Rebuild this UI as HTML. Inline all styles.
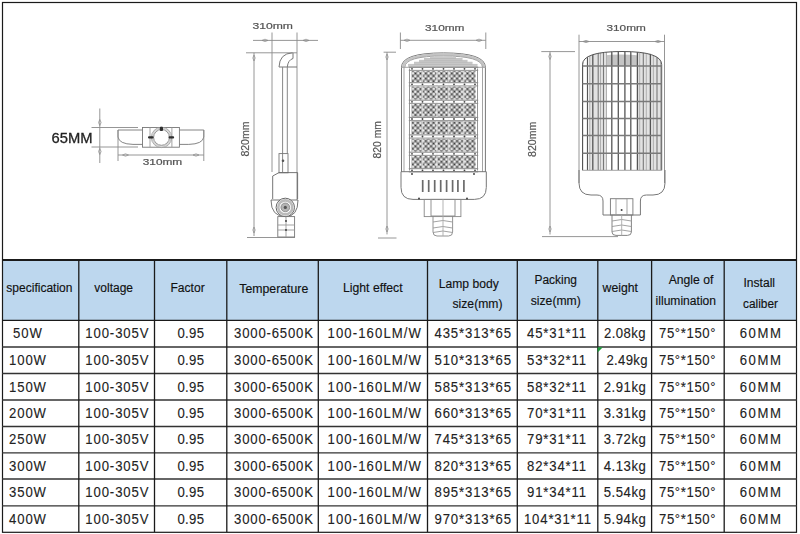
<!DOCTYPE html>
<html><head><meta charset="utf-8"><style>
html,body{margin:0;padding:0;background:#fff;width:800px;height:534px;overflow:hidden}
svg{display:block}
text{font-family:"Liberation Sans",sans-serif}
</style></head><body>
<svg width="800" height="534" viewBox="0 0 800 534">
<rect width="800" height="534" fill="#fff"/>
<filter id="soft" x="0" y="0" width="800" height="260" filterUnits="userSpaceOnUse"><feGaussianBlur stdDeviation="0.35"/></filter>
<g id="drawings" filter="url(#soft)" fill="none" stroke="#8a8a8a" stroke-width="0.9" stroke-linecap="butt">
<!-- ============ Drawing 1: top view ============ -->
<text x="51.6" y="142.6" font-size="14.8" fill="#222" stroke="#222" stroke-width="0.3" textLength="41" lengthAdjust="spacingAndGlyphs">65MM</text>
<line x1="99.8" y1="108.5" x2="99.8" y2="163"/>
<path d="M99.8 119.5 l-1.3 3 l1.3 3 l1.3 -3 z M99.8 148.5 l-1.3 3 l1.3 3 l1.3 -3 z" stroke-width="0.7"/>
<line x1="91.5" y1="127.5" x2="138" y2="127.5"/>
<line x1="91.5" y1="147" x2="138" y2="147"/>
<!-- wings -->
<path d="M118 130 H142.5 M118 130 V137 Q119 144 133 144.4 H142.5" stroke="#777"/>
<path d="M203.8 130 H179.4 M203.8 130 V137 Q202.8 144 188.8 144.4 H179.4" stroke="#777"/>
<rect x="142.5" y="127.5" width="36.9" height="19.7" stroke="#777"/>
<line x1="150" y1="127.5" x2="150" y2="147.2" stroke="#999"/>
<line x1="171.9" y1="127.5" x2="171.9" y2="147.2" stroke="#999"/>
<circle cx="161.5" cy="137.4" r="9.1" stroke="#d6d6d6" stroke-width="1.8"/>
<circle cx="161.5" cy="137.4" r="7.9" stroke="#8a8a8a" stroke-width="0.9"/>
<circle cx="161.5" cy="137.4" r="10.2" stroke="#9a9a9a" stroke-width="0.8"/>
<g fill="#2e2e2e" stroke="none">
<rect x="159.8" y="126.8" width="3.2" height="4.2" rx="1"/>
<rect x="148" y="136.2" width="5.6" height="2.4" rx="1"/>
<rect x="168.5" y="136.2" width="5.6" height="2.4" rx="1"/>
</g>
<line x1="118" y1="130" x2="118" y2="161"/>
<line x1="203.8" y1="130" x2="203.8" y2="161"/>
<line x1="118" y1="155" x2="203.8" y2="155"/>
<path d="M122.5 155 l3 -1.2 l3 1.2 l-3 1.2 z M193 155 l3 -1.2 l3 1.2 l-3 1.2 z" stroke-width="0.7"/>
<text x="142.75" y="165" font-size="8.2" fill="#555" stroke="#555" stroke-width="0.2" textLength="39.5" lengthAdjust="spacingAndGlyphs">310mm</text>

<!-- ============ Drawing 2: side view ============ -->
<text x="252.5" y="29" font-size="8.8" fill="#555" stroke="#555" stroke-width="0.2" textLength="40.5" lengthAdjust="spacingAndGlyphs">310mm</text>
<line x1="253" y1="40.4" x2="318" y2="40.4"/>
<path d="M262 40.4 l3 -1.2 l3 1.2 l-3 1.2 z M303 40.4 l3 -1.2 l3 1.2 l-3 1.2 z" stroke-width="0.7"/>
<line x1="272" y1="32.5" x2="272" y2="172"/>
<line x1="297" y1="32.5" x2="297" y2="200"/>
<line x1="246" y1="52.8" x2="297" y2="52.8"/>
<line x1="254" y1="52.8" x2="254" y2="236"/>
<path d="M254 55 l-1.2 3 l1.2 3 l1.2 -3 z M254 227 l-1.2 3 l1.2 3 l1.2 -3 z" stroke-width="0.7"/>
<line x1="247" y1="237.5" x2="295" y2="237.5"/>
<text transform="translate(248.7,156.6) rotate(-90)" x="0" y="0" font-size="10.5" fill="#555" stroke="#555" stroke-width="0.2" textLength="35" lengthAdjust="spacingAndGlyphs">820mm</text>
<!-- head curve -->
<path d="M279 67 Q279.5 53.5 292.5 52.8 M287.3 67 Q288 60 293 58.5 V52.8 M279 67 H297" stroke="#777" stroke-width="1"/>
<line x1="282.6" y1="67" x2="282.6" y2="172" stroke="#888" stroke-width="1"/>
<line x1="287.3" y1="67" x2="287.3" y2="153.6" stroke="#888" stroke-width="1"/>
<rect x="279" y="153.6" width="9" height="19.2" stroke="#777"/>
<circle cx="283" cy="160.7" r="1.3" fill="#555" stroke="none"/>
<path d="M272.7 199 V176 L279 172.6 H297.6 V199" stroke="#666"/>
<path d="M271 200 Q271 216.6 285.6 216.6 Q298 216.6 298 200 Z" stroke="#666"/>
<circle cx="285.3" cy="207.4" r="9.2" stroke="#666" stroke-width="1" fill="#fff"/>
<circle cx="285.3" cy="207.4" r="7" stroke="#bbb" stroke-width="2.6"/>
<circle cx="285.3" cy="207.4" r="4.4" fill="#b4b4b4" stroke="#777" stroke-width="0.7"/>
<circle cx="285.3" cy="207.4" r="1.6" fill="#555" stroke="none"/>
<rect x="277.8" y="216.6" width="16.8" height="20.4" stroke="#777"/>
<line x1="277.8" y1="225" x2="294.6" y2="225" stroke="#999"/>
<line x1="277.8" y1="230" x2="294.6" y2="230" stroke="#999"/>
<line x1="286" y1="216.6" x2="286" y2="237" stroke="#999"/>
<circle cx="286" cy="221" r="0.9" fill="#333" stroke="none"/>
<circle cx="286" cy="230" r="0.9" fill="#333" stroke="none"/>

<!-- ============ Drawing 3: front view ============ -->
<text x="425" y="30.7" font-size="8.8" fill="#555" stroke="#555" stroke-width="0.2" textLength="39.5" lengthAdjust="spacingAndGlyphs">310mm</text>
<line x1="400.4" y1="40.3" x2="485.8" y2="40.3"/>
<path d="M404 40.3 l3 -1.2 l3 1.2 l-3 1.2 z M476 40.3 l3 -1.2 l3 1.2 l-3 1.2 z" stroke-width="0.7"/>
<line x1="400.4" y1="32.5" x2="400.4" y2="49"/>
<line x1="485.8" y1="32.5" x2="485.8" y2="49"/>
<line x1="383.6" y1="52.2" x2="396" y2="52.2"/>
<line x1="387" y1="52.2" x2="387" y2="234.4"/>
<path d="M387 54 l-1.2 3 l1.2 3 l1.2 -3 z M387 226 l-1.2 3 l1.2 3 l1.2 -3 z" stroke-width="0.7"/>
<line x1="378" y1="238" x2="396.5" y2="238"/>
<text transform="translate(381,158.4) rotate(-90)" x="0" y="0" font-size="11" fill="#555" stroke="#555" stroke-width="0.2" textLength="37.4" lengthAdjust="spacingAndGlyphs">820 mm</text>

<!-- front body -->
<defs>
<pattern id="led" x="411.5" y="69.5" width="5.2" height="5.2" patternUnits="userSpaceOnUse">
<rect width="5.2" height="5.2" fill="#fbfbfb"/>
<rect x="0.3" y="0.3" width="2.05" height="2.05" fill="#2a2a2a"/>
<rect x="2.9" y="2.9" width="2.05" height="2.05" fill="#2a2a2a"/>
</pattern>
<pattern id="fins" x="582.5" y="0" width="6.1" height="10" patternUnits="userSpaceOnUse">
<rect x="0" y="0" width="1.4" height="10" fill="#6a6a6a"/>
<rect x="3.0" y="0" width="0.8" height="10" fill="#b0b0b0"/>
</pattern>
</defs>
<path d="M401.5 172 V67.3 Q401.5 52.9 443.4 52.9 Q485.4 52.9 485.4 67.3 V172" stroke="#777" stroke-width="1"/>
<path d="M403.2 67.3 Q403.3 54.5 443.4 54.5 Q483.5 54.5 483.8 67.3" stroke="#c4c4c4" stroke-width="2.4"/>
<path d="M404.8 67.3 Q405 56 443.4 56 Q482 56 482.5 67.3" stroke="#999" stroke-width="0.9"/>
<line x1="404" y1="67.3" x2="404" y2="172" stroke="#999"/>
<line x1="482.5" y1="67.3" x2="482.5" y2="172" stroke="#999"/>
<line x1="401.5" y1="67.3" x2="485.4" y2="67.3" stroke="#999"/>
<g stroke="none" fill="#c9c9c9">
<rect x="430" y="56.5" width="26" height="11"/>
<rect x="424" y="58.5" width="38.5" height="9"/>
<rect x="419" y="60.3" width="48.5" height="7.2"/>
<rect x="414" y="62.2" width="58.5" height="5.3"/>
<rect x="408" y="64.4" width="69.5" height="3.1"/>
</g>
<g stroke="#b0b0b0" stroke-width="0.6">
<line x1="408" y1="64.4" x2="477.5" y2="64.4"/>
<line x1="414" y1="62.2" x2="472.5" y2="62.2"/>
<line x1="419" y1="60.3" x2="467.5" y2="60.3"/>
<line x1="424" y1="58.5" x2="462.5" y2="58.5"/>
</g>
<g id="modules">
<rect x="411.5" y="71.1" width="64" height="10.9" fill="url(#led)" stroke="none"/>
<rect x="411.5" y="86.6" width="64" height="12.9" fill="url(#led)" stroke="none"/>
<rect x="411.5" y="104.1" width="64" height="12.6" fill="url(#led)" stroke="none"/>
<rect x="411.5" y="121.3" width="64" height="12.9" fill="url(#led)" stroke="none"/>
<rect x="411.5" y="138.8" width="64" height="12.7" fill="url(#led)" stroke="none"/>
<rect x="411.5" y="156.1" width="64" height="11.9" fill="url(#led)" stroke="none"/>
<rect x="421.5" y="68.8" width="1.8" height="101.5" fill="#f4f4f4" opacity="0.6" stroke="none"/>
<rect x="436" y="68.8" width="1.8" height="101.5" fill="#f4f4f4" opacity="0.6" stroke="none"/>
<rect x="447.8" y="68.8" width="1.8" height="101.5" fill="#f4f4f4" opacity="0.6" stroke="none"/>
<rect x="462.8" y="68.8" width="1.8" height="101.5" fill="#f4f4f4" opacity="0.6" stroke="none"/>
<line x1="408.8" y1="67.2" x2="478.2" y2="67.2" stroke="#777" stroke-width="0.9"/>
<line x1="408.8" y1="70.4" x2="478.2" y2="70.4" stroke="#888" stroke-width="0.9"/>
<circle cx="412" cy="68.8" r="0.9" fill="#444" stroke="none"/>
<circle cx="422.5" cy="68.8" r="0.9" fill="#444" stroke="none"/>
<circle cx="433" cy="68.8" r="0.9" fill="#444" stroke="none"/>
<circle cx="443.5" cy="68.8" r="0.9" fill="#444" stroke="none"/>
<circle cx="454" cy="68.8" r="0.9" fill="#444" stroke="none"/>
<circle cx="464.5" cy="68.8" r="0.9" fill="#444" stroke="none"/>
<circle cx="475" cy="68.8" r="0.9" fill="#444" stroke="none"/>
<line x1="408.8" y1="82.7" x2="478.2" y2="82.7" stroke="#777" stroke-width="0.9"/>
<line x1="408.8" y1="85.9" x2="478.2" y2="85.9" stroke="#888" stroke-width="0.9"/>
<circle cx="412" cy="84.3" r="0.9" fill="#444" stroke="none"/>
<circle cx="422.5" cy="84.3" r="0.9" fill="#444" stroke="none"/>
<circle cx="433" cy="84.3" r="0.9" fill="#444" stroke="none"/>
<circle cx="443.5" cy="84.3" r="0.9" fill="#444" stroke="none"/>
<circle cx="454" cy="84.3" r="0.9" fill="#444" stroke="none"/>
<circle cx="464.5" cy="84.3" r="0.9" fill="#444" stroke="none"/>
<circle cx="475" cy="84.3" r="0.9" fill="#444" stroke="none"/>
<line x1="408.8" y1="100.2" x2="478.2" y2="100.2" stroke="#777" stroke-width="0.9"/>
<line x1="408.8" y1="103.4" x2="478.2" y2="103.4" stroke="#888" stroke-width="0.9"/>
<circle cx="412" cy="101.8" r="0.9" fill="#444" stroke="none"/>
<circle cx="422.5" cy="101.8" r="0.9" fill="#444" stroke="none"/>
<circle cx="433" cy="101.8" r="0.9" fill="#444" stroke="none"/>
<circle cx="443.5" cy="101.8" r="0.9" fill="#444" stroke="none"/>
<circle cx="454" cy="101.8" r="0.9" fill="#444" stroke="none"/>
<circle cx="464.5" cy="101.8" r="0.9" fill="#444" stroke="none"/>
<circle cx="475" cy="101.8" r="0.9" fill="#444" stroke="none"/>
<line x1="408.8" y1="117.4" x2="478.2" y2="117.4" stroke="#777" stroke-width="0.9"/>
<line x1="408.8" y1="120.6" x2="478.2" y2="120.6" stroke="#888" stroke-width="0.9"/>
<circle cx="412" cy="119.0" r="0.9" fill="#444" stroke="none"/>
<circle cx="422.5" cy="119.0" r="0.9" fill="#444" stroke="none"/>
<circle cx="433" cy="119.0" r="0.9" fill="#444" stroke="none"/>
<circle cx="443.5" cy="119.0" r="0.9" fill="#444" stroke="none"/>
<circle cx="454" cy="119.0" r="0.9" fill="#444" stroke="none"/>
<circle cx="464.5" cy="119.0" r="0.9" fill="#444" stroke="none"/>
<circle cx="475" cy="119.0" r="0.9" fill="#444" stroke="none"/>
<line x1="408.8" y1="134.9" x2="478.2" y2="134.9" stroke="#777" stroke-width="0.9"/>
<line x1="408.8" y1="138.1" x2="478.2" y2="138.1" stroke="#888" stroke-width="0.9"/>
<circle cx="412" cy="136.5" r="0.9" fill="#444" stroke="none"/>
<circle cx="422.5" cy="136.5" r="0.9" fill="#444" stroke="none"/>
<circle cx="433" cy="136.5" r="0.9" fill="#444" stroke="none"/>
<circle cx="443.5" cy="136.5" r="0.9" fill="#444" stroke="none"/>
<circle cx="454" cy="136.5" r="0.9" fill="#444" stroke="none"/>
<circle cx="464.5" cy="136.5" r="0.9" fill="#444" stroke="none"/>
<circle cx="475" cy="136.5" r="0.9" fill="#444" stroke="none"/>
<line x1="408.8" y1="152.2" x2="478.2" y2="152.2" stroke="#777" stroke-width="0.9"/>
<line x1="408.8" y1="155.4" x2="478.2" y2="155.4" stroke="#888" stroke-width="0.9"/>
<circle cx="412" cy="153.8" r="0.9" fill="#444" stroke="none"/>
<circle cx="422.5" cy="153.8" r="0.9" fill="#444" stroke="none"/>
<circle cx="433" cy="153.8" r="0.9" fill="#444" stroke="none"/>
<circle cx="443.5" cy="153.8" r="0.9" fill="#444" stroke="none"/>
<circle cx="454" cy="153.8" r="0.9" fill="#444" stroke="none"/>
<circle cx="464.5" cy="153.8" r="0.9" fill="#444" stroke="none"/>
<circle cx="475" cy="153.8" r="0.9" fill="#444" stroke="none"/>
<line x1="408.8" y1="168.7" x2="478.2" y2="168.7" stroke="#777" stroke-width="0.9"/>
<line x1="408.8" y1="171.9" x2="478.2" y2="171.9" stroke="#888" stroke-width="0.9"/>
<circle cx="412" cy="170.3" r="0.9" fill="#444" stroke="none"/>
<circle cx="422.5" cy="170.3" r="0.9" fill="#444" stroke="none"/>
<circle cx="433" cy="170.3" r="0.9" fill="#444" stroke="none"/>
<circle cx="443.5" cy="170.3" r="0.9" fill="#444" stroke="none"/>
<circle cx="454" cy="170.3" r="0.9" fill="#444" stroke="none"/>
<circle cx="464.5" cy="170.3" r="0.9" fill="#444" stroke="none"/>
<circle cx="475" cy="170.3" r="0.9" fill="#444" stroke="none"/>
<line x1="409.5" y1="68.5" x2="409.5" y2="170.5" stroke="#888" stroke-width="0.9"/>
<line x1="477.5" y1="68.5" x2="477.5" y2="170.5" stroke="#888" stroke-width="0.9"/>
</g>
<path d="M401 171.7 H486.3 V187.4 Q486.3 199.4 474.3 199.4 H413 Q401 199.4 401 187.4 Z" stroke="#777" stroke-width="1"/>
<g stroke="#6a6a6a" stroke-width="1.7">
<line x1="422.7" y1="180" x2="422.7" y2="192"/>
<line x1="428.7" y1="180" x2="428.7" y2="192"/>
<line x1="434.7" y1="180" x2="434.7" y2="192"/>
<line x1="440.7" y1="180" x2="440.7" y2="192"/>
<line x1="446.6" y1="180" x2="446.6" y2="192"/>
<line x1="452.6" y1="180" x2="452.6" y2="192"/>
<line x1="457.9" y1="180" x2="457.9" y2="192"/>
<line x1="463.9" y1="180" x2="463.9" y2="192"/>
</g>
<circle cx="412" cy="174" r="0.9" fill="#333" stroke="none"/>
<circle cx="474" cy="174" r="0.9" fill="#333" stroke="none"/>
<circle cx="419" cy="198.5" r="0.9" fill="#333" stroke="none"/>
<circle cx="467" cy="198.5" r="0.9" fill="#333" stroke="none"/>
<rect x="424.2" y="199.4" width="36.7" height="17.2" stroke="#888"/>
<rect x="431" y="199.4" width="24" height="16.6" stroke="#888"/>
<path d="M433 216 V232 Q433 236 437 236 H448.6 Q452.6 236 452.6 232 V216" stroke="#888"/>
<path d="M433 222 Q443 219 452.6 222 M433 228 Q443 225 452.6 228 M433 232.5 Q443 229.5 452.6 232.5" stroke="#999"/>
<line x1="443" y1="199.4" x2="443" y2="236" stroke="#aaa"/>

<!-- ============ Drawing 4: back view ============ -->
<text x="606.5" y="30.7" font-size="8.8" fill="#555" stroke="#555" stroke-width="0.2" textLength="39.3" lengthAdjust="spacingAndGlyphs">310mm</text>
<line x1="578.9" y1="41.5" x2="664.5" y2="41.5"/>
<path d="M583 41.5 l3 -1.2 l3 1.2 l-3 1.2 z M655 41.5 l3 -1.2 l3 1.2 l-3 1.2 z" stroke-width="0.7"/>
<line x1="579" y1="34.7" x2="579" y2="183"/>
<line x1="664.5" y1="34.7" x2="664.5" y2="183"/>
<line x1="541.3" y1="51.6" x2="575" y2="51.6"/>
<line x1="550" y1="51.6" x2="550" y2="234.5"/>
<path d="M550 53.5 l-1.2 3 l1.2 3 l1.2 -3 z M550 226 l-1.2 3 l1.2 3 l1.2 -3 z" stroke-width="0.7"/>
<line x1="542" y1="236.6" x2="618" y2="236.6"/>
<text transform="translate(535.7,157) rotate(-90)" x="0" y="0" font-size="10.5" fill="#555" stroke="#555" stroke-width="0.2" textLength="35.3" lengthAdjust="spacingAndGlyphs">820mm</text>
<path d="M593 66 V58 Q600 54.5 620 54.5 Q642 54.5 648.6 58 V66 Z" fill="#c4c4c4" stroke="none"/>
<clipPath id="bodyclip"><path d="M582.5 170.3 V64.7 Q582.5 51.5 622 51.5 Q661.7 51.5 661.7 64.7 V170.3 Z"/></clipPath>
<g id="finlines" clip-path="url(#bodyclip)">
<rect x="589" y="50" width="18" height="121" fill="#e2e2e2" stroke="none"/>
<rect x="638" y="50" width="22" height="121" fill="#e2e2e2" stroke="none"/>
<line x1="582.7" y1="50" x2="582.7" y2="170.3" stroke="#777" stroke-width="1.0"/>
<line x1="587.5" y1="50" x2="587.5" y2="170.3" stroke="#555" stroke-width="1.2"/>
<line x1="589.8" y1="50" x2="589.8" y2="170.3" stroke="#aaa" stroke-width="0.9"/>
<line x1="592.8" y1="50" x2="592.8" y2="170.3" stroke="#555" stroke-width="1.3"/>
<line x1="598.2" y1="50" x2="598.2" y2="170.3" stroke="#777" stroke-width="1.1"/>
<line x1="600.5" y1="50" x2="600.5" y2="170.3" stroke="#aaa" stroke-width="0.9"/>
<line x1="603.5" y1="50" x2="603.5" y2="170.3" stroke="#777" stroke-width="1.1"/>
<line x1="606.5" y1="50" x2="606.5" y2="170.3" stroke="#aaa" stroke-width="0.9"/>
<line x1="611.8" y1="50" x2="611.8" y2="170.3" stroke="#555" stroke-width="1.3"/>
<line x1="618.3" y1="50" x2="618.3" y2="170.3" stroke="#555" stroke-width="1.3"/>
<line x1="624.9" y1="50" x2="624.9" y2="170.3" stroke="#555" stroke-width="1.3"/>
<line x1="630.8" y1="50" x2="630.8" y2="170.3" stroke="#555" stroke-width="1.3"/>
<line x1="637.4" y1="50" x2="637.4" y2="170.3" stroke="#555" stroke-width="1.3"/>
<line x1="639.7" y1="50" x2="639.7" y2="170.3" stroke="#aaa" stroke-width="0.9"/>
<line x1="643.3" y1="50" x2="643.3" y2="170.3" stroke="#777" stroke-width="1.1"/>
<line x1="646.3" y1="50" x2="646.3" y2="170.3" stroke="#aaa" stroke-width="0.9"/>
<line x1="650.4" y1="50" x2="650.4" y2="170.3" stroke="#555" stroke-width="1.3"/>
<line x1="653.4" y1="50" x2="653.4" y2="170.3" stroke="#aaa" stroke-width="0.9"/>
<line x1="657" y1="50" x2="657" y2="170.3" stroke="#777" stroke-width="1.1"/>
<line x1="660.5" y1="50" x2="660.5" y2="170.3" stroke="#aaa" stroke-width="0.9"/>
</g>

<path d="M582.5 170.3 V64.7 Q582.5 51.5 622 51.5 Q661.7 51.5 661.7 64.7 V170.3" stroke="#555" stroke-width="1"/>
<g stroke="#7a7a7a" stroke-width="1.5">
<line x1="582.5" y1="66" x2="661.7" y2="66"/>
<line x1="582.5" y1="83.7" x2="661.7" y2="83.7"/>
<line x1="582.5" y1="101.4" x2="661.7" y2="101.4"/>
<line x1="582.5" y1="118.5" x2="661.7" y2="118.5"/>
<line x1="582.5" y1="135.6" x2="661.7" y2="135.6"/>
<line x1="582.5" y1="153.2" x2="661.7" y2="153.2"/>
</g>
<line x1="582.5" y1="170.3" x2="661.7" y2="170.3" stroke="#999"/>
<path d="M579 170 V183 Q579 195 591 195 H597 Q603 195 603 201 V215 H640.4 V201 Q640.4 195 646.4 195 H653 Q665 195 665 183 V170" stroke="#777" stroke-width="1"/>
<rect x="610.4" y="198.7" width="22.5" height="16.3" stroke="#777"/>
<rect x="616" y="198.7" width="11" height="16.3" stroke="#999"/>
<circle cx="621.6" cy="210" r="1" fill="#444" stroke="none"/>
<path d="M612 215 V232 Q612 235.4 616 235.4 H627.4 Q631.4 235.4 631.4 232 V215" stroke="#777"/>
<path d="M612 221 Q621.7 218 631.4 221 M612 226.5 Q621.7 223.5 631.4 226.5 M612 231.5 Q621.7 228.5 631.4 231.5" stroke="#999"/>
<line x1="621.7" y1="215" x2="621.7" y2="235.4" stroke="#aaa"/>
</g>

<rect x="2.5" y="260" width="794" height="60" fill="#BDD7EE"/>
<g stroke="#1a1a1a" fill="none">
<rect x="2.5" y="2.5" width="794" height="529.8" stroke-width="1.2"/>
<line x1="2" y1="260" x2="797" y2="260" stroke-width="2"/>
<line x1="2" y1="320.3" x2="797" y2="320.3" stroke-width="1.3"/>
<line x1="2" y1="347" x2="797" y2="347" stroke-width="1.3" stroke="#333"/>
<line x1="2" y1="373.5" x2="797" y2="373.5" stroke-width="1.3" stroke="#333"/>
<line x1="2" y1="400" x2="797" y2="400" stroke-width="1.3" stroke="#333"/>
<line x1="2" y1="426.5" x2="797" y2="426.5" stroke-width="1.3" stroke="#333"/>
<line x1="2" y1="452.8" x2="797" y2="452.8" stroke-width="1.3" stroke="#333"/>
<line x1="2" y1="479" x2="797" y2="479" stroke-width="1.3" stroke="#333"/>
<line x1="2" y1="505.8" x2="797" y2="505.8" stroke-width="1.3" stroke="#333"/>
<line x1="78.8" y1="260" x2="78.8" y2="532" stroke-width="1.3"/>
<line x1="154.5" y1="260" x2="154.5" y2="532" stroke-width="1.3"/>
<line x1="226.8" y1="260" x2="226.8" y2="532" stroke-width="1.3"/>
<line x1="318.3" y1="260" x2="318.3" y2="532" stroke-width="1.3"/>
<line x1="427.5" y1="260" x2="427.5" y2="532" stroke-width="1.3"/>
<line x1="517.3" y1="260" x2="517.3" y2="532" stroke-width="1.3"/>
<line x1="597.8" y1="260" x2="597.8" y2="532" stroke-width="1.3"/>
<line x1="651.6" y1="260" x2="651.6" y2="532" stroke-width="1.3"/>
<line x1="724.2" y1="260" x2="724.2" y2="532" stroke-width="1.3"/>
</g>
<path d="M597.6 347.3 L602.8 347.3 L597.6 352.5 Z" fill="#1e9a3c"/>
<g font-family="Liberation Sans, sans-serif">
<text x="6.3" y="292.4" font-size="12.5" fill="#111" textLength="66.2" lengthAdjust="spacingAndGlyphs" stroke="#111" stroke-width="0.15">specification</text>
<text x="94.3" y="292.4" font-size="12.5" fill="#111" textLength="38.7" lengthAdjust="spacingAndGlyphs" stroke="#111" stroke-width="0.15">voltage</text>
<text x="170.5" y="292.4" font-size="12.5" fill="#111" textLength="34.2" lengthAdjust="spacingAndGlyphs" stroke="#111" stroke-width="0.15">Factor</text>
<text x="239.3" y="293.2" font-size="12.5" fill="#111" textLength="69.0" lengthAdjust="spacingAndGlyphs" stroke="#111" stroke-width="0.15">Temperature</text>
<text x="343" y="292.4" font-size="12.5" fill="#111" textLength="59.6" lengthAdjust="spacingAndGlyphs" stroke="#111" stroke-width="0.15">Light effect</text>
<text x="438.75" y="287.5" font-size="12.5" fill="#111" textLength="60.0" lengthAdjust="spacingAndGlyphs" stroke="#111" stroke-width="0.15">Lamp body</text>
<text x="452.5" y="308" font-size="12.5" fill="#111" textLength="50.0" lengthAdjust="spacingAndGlyphs" stroke="#111" stroke-width="0.15">size(mm)</text>
<text x="534.5" y="283.75" font-size="12.5" fill="#111" textLength="42.5" lengthAdjust="spacingAndGlyphs" stroke="#111" stroke-width="0.15">Packing</text>
<text x="530.75" y="304.5" font-size="12.5" fill="#111" textLength="50.0" lengthAdjust="spacingAndGlyphs" stroke="#111" stroke-width="0.15">size(mm)</text>
<text x="602.6" y="291.7" font-size="12.5" fill="#111" textLength="35.4" lengthAdjust="spacingAndGlyphs" stroke="#111" stroke-width="0.15">weight</text>
<text x="668.7" y="283.9" font-size="12.5" fill="#111" textLength="44.7" lengthAdjust="spacingAndGlyphs" stroke="#111" stroke-width="0.15">Angle of</text>
<text x="655.6" y="304.9" font-size="12.5" fill="#111" textLength="60.4" lengthAdjust="spacingAndGlyphs" stroke="#111" stroke-width="0.15">illumination</text>
<text x="743.5" y="286.5" font-size="12.5" fill="#111" textLength="31.5" lengthAdjust="spacingAndGlyphs" stroke="#111" stroke-width="0.15">Install</text>
<text x="743" y="307.5" font-size="12.5" fill="#111" textLength="35.0" lengthAdjust="spacingAndGlyphs" stroke="#111" stroke-width="0.15">caliber</text>
<text transform="translate(13,338.4) scale(0.9,1)" font-size="14.6" fill="#222" stroke="#222" stroke-width="0.12" textLength="32.2" lengthAdjust="spacing">50W</text>
<text transform="translate(85.3,338.4) scale(0.9,1)" font-size="14.6" fill="#222" stroke="#222" stroke-width="0.12" textLength="70.2" lengthAdjust="spacing">100-305V</text>
<text transform="translate(177.5,338.4) scale(0.9,1)" font-size="14.6" fill="#222" stroke="#222" stroke-width="0.12" textLength="29.4" lengthAdjust="spacing">0.95</text>
<text transform="translate(234,338.4) scale(0.9,1)" font-size="14.6" fill="#222" stroke="#222" stroke-width="0.12" textLength="87.8" lengthAdjust="spacing">3000-6500K</text>
<text transform="translate(327.5,338.4) scale(0.9,1)" font-size="14.6" fill="#222" stroke="#222" stroke-width="0.12" textLength="103.9" lengthAdjust="spacing">100-160LM/W</text>
<text transform="translate(434.5,338.4) scale(0.9,1)" font-size="14.6" fill="#222" stroke="#222" stroke-width="0.12" textLength="85.0" lengthAdjust="spacing">435*313*65</text>
<text transform="translate(527,338.4) scale(0.9,1)" font-size="14.6" fill="#222" stroke="#222" stroke-width="0.12" textLength="65.6" lengthAdjust="spacing">45*31*11</text>
<text transform="translate(604,338.4) scale(0.9,1)" font-size="14.6" fill="#222" stroke="#222" stroke-width="0.12" textLength="46.1" lengthAdjust="spacing">2.08kg</text>
<text transform="translate(659,338.4) scale(0.9,1)" font-size="14.6" fill="#222" stroke="#222" stroke-width="0.12" textLength="62.8" lengthAdjust="spacing">75°*150°</text>
<text transform="translate(739.8,338.4) scale(0.9,1)" font-size="14.6" fill="#222" stroke="#222" stroke-width="0.12" textLength="45.6" lengthAdjust="spacing">60MM</text>
<text transform="translate(9,365.0) scale(0.9,1)" font-size="14.6" fill="#222" stroke="#222" stroke-width="0.12" textLength="41.1" lengthAdjust="spacing">100W</text>
<text transform="translate(85.3,365.0) scale(0.9,1)" font-size="14.6" fill="#222" stroke="#222" stroke-width="0.12" textLength="70.2" lengthAdjust="spacing">100-305V</text>
<text transform="translate(177.5,365.0) scale(0.9,1)" font-size="14.6" fill="#222" stroke="#222" stroke-width="0.12" textLength="29.4" lengthAdjust="spacing">0.95</text>
<text transform="translate(234,365.0) scale(0.9,1)" font-size="14.6" fill="#222" stroke="#222" stroke-width="0.12" textLength="87.8" lengthAdjust="spacing">3000-6500K</text>
<text transform="translate(327.5,365.0) scale(0.9,1)" font-size="14.6" fill="#222" stroke="#222" stroke-width="0.12" textLength="103.9" lengthAdjust="spacing">100-160LM/W</text>
<text transform="translate(434.5,365.0) scale(0.9,1)" font-size="14.6" fill="#222" stroke="#222" stroke-width="0.12" textLength="85.0" lengthAdjust="spacing">510*313*65</text>
<text transform="translate(527,365.0) scale(0.9,1)" font-size="14.6" fill="#222" stroke="#222" stroke-width="0.12" textLength="65.6" lengthAdjust="spacing">53*32*11</text>
<text transform="translate(606.5,365.0) scale(0.9,1)" font-size="14.6" fill="#222" stroke="#222" stroke-width="0.12" textLength="45.6" lengthAdjust="spacing">2.49kg</text>
<text transform="translate(659,365.0) scale(0.9,1)" font-size="14.6" fill="#222" stroke="#222" stroke-width="0.12" textLength="62.8" lengthAdjust="spacing">75°*150°</text>
<text transform="translate(739.8,365.0) scale(0.9,1)" font-size="14.6" fill="#222" stroke="#222" stroke-width="0.12" textLength="45.6" lengthAdjust="spacing">60MM</text>
<text transform="translate(9,391.6) scale(0.9,1)" font-size="14.6" fill="#222" stroke="#222" stroke-width="0.12" textLength="41.1" lengthAdjust="spacing">150W</text>
<text transform="translate(85.3,391.6) scale(0.9,1)" font-size="14.6" fill="#222" stroke="#222" stroke-width="0.12" textLength="70.2" lengthAdjust="spacing">100-305V</text>
<text transform="translate(177.5,391.6) scale(0.9,1)" font-size="14.6" fill="#222" stroke="#222" stroke-width="0.12" textLength="29.4" lengthAdjust="spacing">0.95</text>
<text transform="translate(234,391.6) scale(0.9,1)" font-size="14.6" fill="#222" stroke="#222" stroke-width="0.12" textLength="87.8" lengthAdjust="spacing">3000-6500K</text>
<text transform="translate(327.5,391.6) scale(0.9,1)" font-size="14.6" fill="#222" stroke="#222" stroke-width="0.12" textLength="103.9" lengthAdjust="spacing">100-160LM/W</text>
<text transform="translate(434.5,391.6) scale(0.9,1)" font-size="14.6" fill="#222" stroke="#222" stroke-width="0.12" textLength="85.0" lengthAdjust="spacing">585*313*65</text>
<text transform="translate(527,391.6) scale(0.9,1)" font-size="14.6" fill="#222" stroke="#222" stroke-width="0.12" textLength="65.6" lengthAdjust="spacing">58*32*11</text>
<text transform="translate(603.8,391.6) scale(0.9,1)" font-size="14.6" fill="#222" stroke="#222" stroke-width="0.12" textLength="46.7" lengthAdjust="spacing">2.91kg</text>
<text transform="translate(659,391.6) scale(0.9,1)" font-size="14.6" fill="#222" stroke="#222" stroke-width="0.12" textLength="62.8" lengthAdjust="spacing">75°*150°</text>
<text transform="translate(739.8,391.6) scale(0.9,1)" font-size="14.6" fill="#222" stroke="#222" stroke-width="0.12" textLength="45.6" lengthAdjust="spacing">60MM</text>
<text transform="translate(9,417.9) scale(0.9,1)" font-size="14.6" fill="#222" stroke="#222" stroke-width="0.12" textLength="41.1" lengthAdjust="spacing">200W</text>
<text transform="translate(85.3,417.9) scale(0.9,1)" font-size="14.6" fill="#222" stroke="#222" stroke-width="0.12" textLength="70.2" lengthAdjust="spacing">100-305V</text>
<text transform="translate(177.5,417.9) scale(0.9,1)" font-size="14.6" fill="#222" stroke="#222" stroke-width="0.12" textLength="29.4" lengthAdjust="spacing">0.95</text>
<text transform="translate(234,417.9) scale(0.9,1)" font-size="14.6" fill="#222" stroke="#222" stroke-width="0.12" textLength="87.8" lengthAdjust="spacing">3000-6500K</text>
<text transform="translate(327.5,417.9) scale(0.9,1)" font-size="14.6" fill="#222" stroke="#222" stroke-width="0.12" textLength="103.9" lengthAdjust="spacing">100-160LM/W</text>
<text transform="translate(434.5,417.9) scale(0.9,1)" font-size="14.6" fill="#222" stroke="#222" stroke-width="0.12" textLength="85.0" lengthAdjust="spacing">660*313*65</text>
<text transform="translate(527,417.9) scale(0.9,1)" font-size="14.6" fill="#222" stroke="#222" stroke-width="0.12" textLength="65.6" lengthAdjust="spacing">70*31*11</text>
<text transform="translate(603.8,417.9) scale(0.9,1)" font-size="14.6" fill="#222" stroke="#222" stroke-width="0.12" textLength="46.7" lengthAdjust="spacing">3.31kg</text>
<text transform="translate(659,417.9) scale(0.9,1)" font-size="14.6" fill="#222" stroke="#222" stroke-width="0.12" textLength="62.8" lengthAdjust="spacing">75°*150°</text>
<text transform="translate(739.8,417.9) scale(0.9,1)" font-size="14.6" fill="#222" stroke="#222" stroke-width="0.12" textLength="45.6" lengthAdjust="spacing">60MM</text>
<text transform="translate(9,444.3) scale(0.9,1)" font-size="14.6" fill="#222" stroke="#222" stroke-width="0.12" textLength="41.1" lengthAdjust="spacing">250W</text>
<text transform="translate(85.3,444.3) scale(0.9,1)" font-size="14.6" fill="#222" stroke="#222" stroke-width="0.12" textLength="70.2" lengthAdjust="spacing">100-305V</text>
<text transform="translate(177.5,444.3) scale(0.9,1)" font-size="14.6" fill="#222" stroke="#222" stroke-width="0.12" textLength="29.4" lengthAdjust="spacing">0.95</text>
<text transform="translate(234,444.3) scale(0.9,1)" font-size="14.6" fill="#222" stroke="#222" stroke-width="0.12" textLength="87.8" lengthAdjust="spacing">3000-6500K</text>
<text transform="translate(327.5,444.3) scale(0.9,1)" font-size="14.6" fill="#222" stroke="#222" stroke-width="0.12" textLength="103.9" lengthAdjust="spacing">100-160LM/W</text>
<text transform="translate(434.5,444.3) scale(0.9,1)" font-size="14.6" fill="#222" stroke="#222" stroke-width="0.12" textLength="85.0" lengthAdjust="spacing">745*313*65</text>
<text transform="translate(527,444.3) scale(0.9,1)" font-size="14.6" fill="#222" stroke="#222" stroke-width="0.12" textLength="65.6" lengthAdjust="spacing">79*31*11</text>
<text transform="translate(603.8,444.3) scale(0.9,1)" font-size="14.6" fill="#222" stroke="#222" stroke-width="0.12" textLength="46.7" lengthAdjust="spacing">3.72kg</text>
<text transform="translate(659,444.3) scale(0.9,1)" font-size="14.6" fill="#222" stroke="#222" stroke-width="0.12" textLength="62.8" lengthAdjust="spacing">75°*150°</text>
<text transform="translate(739.8,444.3) scale(0.9,1)" font-size="14.6" fill="#222" stroke="#222" stroke-width="0.12" textLength="45.6" lengthAdjust="spacing">60MM</text>
<text transform="translate(9,471.2) scale(0.9,1)" font-size="14.6" fill="#222" stroke="#222" stroke-width="0.12" textLength="41.1" lengthAdjust="spacing">300W</text>
<text transform="translate(85.3,471.2) scale(0.9,1)" font-size="14.6" fill="#222" stroke="#222" stroke-width="0.12" textLength="70.2" lengthAdjust="spacing">100-305V</text>
<text transform="translate(177.5,471.2) scale(0.9,1)" font-size="14.6" fill="#222" stroke="#222" stroke-width="0.12" textLength="29.4" lengthAdjust="spacing">0.95</text>
<text transform="translate(234,471.2) scale(0.9,1)" font-size="14.6" fill="#222" stroke="#222" stroke-width="0.12" textLength="87.8" lengthAdjust="spacing">3000-6500K</text>
<text transform="translate(327.5,471.2) scale(0.9,1)" font-size="14.6" fill="#222" stroke="#222" stroke-width="0.12" textLength="103.9" lengthAdjust="spacing">100-160LM/W</text>
<text transform="translate(434.5,471.2) scale(0.9,1)" font-size="14.6" fill="#222" stroke="#222" stroke-width="0.12" textLength="85.0" lengthAdjust="spacing">820*313*65</text>
<text transform="translate(527,471.2) scale(0.9,1)" font-size="14.6" fill="#222" stroke="#222" stroke-width="0.12" textLength="65.6" lengthAdjust="spacing">82*34*11</text>
<text transform="translate(603.8,471.2) scale(0.9,1)" font-size="14.6" fill="#222" stroke="#222" stroke-width="0.12" textLength="46.7" lengthAdjust="spacing">4.13kg</text>
<text transform="translate(659,471.2) scale(0.9,1)" font-size="14.6" fill="#222" stroke="#222" stroke-width="0.12" textLength="62.8" lengthAdjust="spacing">75°*150°</text>
<text transform="translate(739.8,471.2) scale(0.9,1)" font-size="14.6" fill="#222" stroke="#222" stroke-width="0.12" textLength="45.6" lengthAdjust="spacing">60MM</text>
<text transform="translate(9,497.4) scale(0.9,1)" font-size="14.6" fill="#222" stroke="#222" stroke-width="0.12" textLength="41.1" lengthAdjust="spacing">350W</text>
<text transform="translate(85.3,497.4) scale(0.9,1)" font-size="14.6" fill="#222" stroke="#222" stroke-width="0.12" textLength="70.2" lengthAdjust="spacing">100-305V</text>
<text transform="translate(177.5,497.4) scale(0.9,1)" font-size="14.6" fill="#222" stroke="#222" stroke-width="0.12" textLength="29.4" lengthAdjust="spacing">0.95</text>
<text transform="translate(234,497.4) scale(0.9,1)" font-size="14.6" fill="#222" stroke="#222" stroke-width="0.12" textLength="87.8" lengthAdjust="spacing">3000-6500K</text>
<text transform="translate(327.5,497.4) scale(0.9,1)" font-size="14.6" fill="#222" stroke="#222" stroke-width="0.12" textLength="103.9" lengthAdjust="spacing">100-160LM/W</text>
<text transform="translate(434.5,497.4) scale(0.9,1)" font-size="14.6" fill="#222" stroke="#222" stroke-width="0.12" textLength="85.0" lengthAdjust="spacing">895*313*65</text>
<text transform="translate(527,497.4) scale(0.9,1)" font-size="14.6" fill="#222" stroke="#222" stroke-width="0.12" textLength="65.6" lengthAdjust="spacing">91*34*11</text>
<text transform="translate(603.8,497.4) scale(0.9,1)" font-size="14.6" fill="#222" stroke="#222" stroke-width="0.12" textLength="46.7" lengthAdjust="spacing">5.54kg</text>
<text transform="translate(659,497.4) scale(0.9,1)" font-size="14.6" fill="#222" stroke="#222" stroke-width="0.12" textLength="62.8" lengthAdjust="spacing">75°*150°</text>
<text transform="translate(739.8,497.4) scale(0.9,1)" font-size="14.6" fill="#222" stroke="#222" stroke-width="0.12" textLength="45.6" lengthAdjust="spacing">60MM</text>
<text transform="translate(9,524.0) scale(0.9,1)" font-size="14.6" fill="#222" stroke="#222" stroke-width="0.12" textLength="41.1" lengthAdjust="spacing">400W</text>
<text transform="translate(85.3,524.0) scale(0.9,1)" font-size="14.6" fill="#222" stroke="#222" stroke-width="0.12" textLength="70.2" lengthAdjust="spacing">100-305V</text>
<text transform="translate(177.5,524.0) scale(0.9,1)" font-size="14.6" fill="#222" stroke="#222" stroke-width="0.12" textLength="29.4" lengthAdjust="spacing">0.95</text>
<text transform="translate(234,524.0) scale(0.9,1)" font-size="14.6" fill="#222" stroke="#222" stroke-width="0.12" textLength="87.8" lengthAdjust="spacing">3000-6500K</text>
<text transform="translate(327.5,524.0) scale(0.9,1)" font-size="14.6" fill="#222" stroke="#222" stroke-width="0.12" textLength="103.9" lengthAdjust="spacing">100-160LM/W</text>
<text transform="translate(434.5,524.0) scale(0.9,1)" font-size="14.6" fill="#222" stroke="#222" stroke-width="0.12" textLength="85.0" lengthAdjust="spacing">970*313*65</text>
<text transform="translate(524,524.0) scale(0.9,1)" font-size="14.6" fill="#222" stroke="#222" stroke-width="0.12" textLength="74.4" lengthAdjust="spacing">104*31*11</text>
<text transform="translate(603.8,524.0) scale(0.9,1)" font-size="14.6" fill="#222" stroke="#222" stroke-width="0.12" textLength="46.7" lengthAdjust="spacing">5.94kg</text>
<text transform="translate(659,524.0) scale(0.9,1)" font-size="14.6" fill="#222" stroke="#222" stroke-width="0.12" textLength="62.8" lengthAdjust="spacing">75°*150°</text>
<text transform="translate(739.8,524.0) scale(0.9,1)" font-size="14.6" fill="#222" stroke="#222" stroke-width="0.12" textLength="45.6" lengthAdjust="spacing">60MM</text>
</g>
</svg>
</body></html>
